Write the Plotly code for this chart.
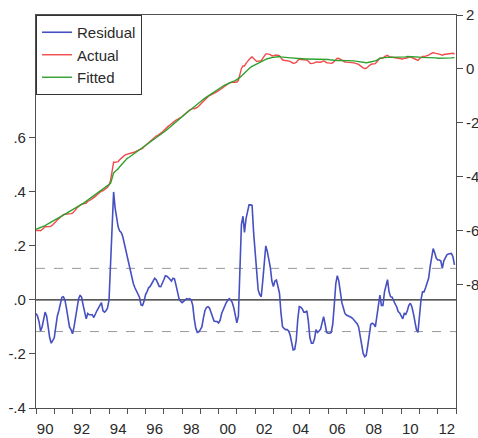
import numpy as np
import plotly.graph_objects as go

# Monthly data 1990M01 - 2012M12
residual_by_year = {
    1990: [-0.05, -0.06, -0.08, -0.115, -0.10, -0.07, -0.045, -0.06, -0.10, -0.14, -0.16, -0.15],
    1991: [-0.14, -0.10, -0.06, -0.04, -0.01, 0.01, 0.012, 0.0, -0.03, -0.07, -0.10, -0.11],
    1992: [-0.125, -0.10, -0.06, -0.02, 0.005, 0.018, 0.01, -0.02, -0.05, -0.07, -0.05, -0.055],
    1993: [-0.055, -0.055, -0.065, -0.05, -0.04, -0.03, -0.02, -0.01, -0.04, -0.045, -0.04, -0.03],
    1994: [0.0, 0.12, 0.26, 0.40, 0.34, 0.31, 0.27, 0.255, 0.25, 0.235, 0.21, 0.185],
    1995: [0.15, 0.125, 0.105, 0.086, 0.06, 0.045, 0.035, 0.02, 0.01, -0.018, -0.02, -0.005],
    1996: [0.02, 0.031, 0.045, 0.05, 0.06, 0.074, 0.08, 0.075, 0.06, 0.05, 0.049, 0.06],
    1997: [0.075, 0.09, 0.088, 0.083, 0.075, 0.07, 0.08, 0.078, 0.055, 0.03, 0.005, -0.005],
    1998: [-0.01, -0.005, 0.0, 0.005, 0.003, 0.005, 0.0, -0.02, -0.07, -0.105, -0.12, -0.118],
    1999: [-0.11, -0.10, -0.067, -0.04, -0.028, -0.025, -0.03, -0.045, -0.065, -0.078, -0.08, -0.08],
    2000: [-0.085, -0.075, -0.05, -0.037, -0.02, -0.01, -0.002, 0.005, 0.0, -0.01, -0.03, -0.06],
    2001: [-0.085, -0.06, 0.10, 0.28, 0.31, 0.25, 0.30, 0.33, 0.352, 0.352, 0.35, 0.25],
    2002: [0.17, 0.086, 0.037, 0.02, 0.012, 0.07, 0.14, 0.20, 0.18, 0.15, 0.12, 0.07],
    2003: [0.05, 0.07, 0.074, 0.05, 0.025, -0.049, -0.099, -0.105, -0.11, -0.11, -0.115, -0.13],
    2004: [-0.165, -0.185, -0.183, -0.15, -0.074, -0.025, -0.027, -0.033, -0.045, -0.045, -0.04, -0.08],
    2005: [-0.14, -0.16, -0.16, -0.145, -0.11, -0.12, -0.115, -0.108, -0.085, -0.062, -0.09, -0.12],
    2006: [-0.123, -0.123, -0.12, -0.09, -0.02, 0.06, 0.09, 0.07, 0.03, -0.01, -0.03, -0.05],
    2007: [-0.056, -0.058, -0.06, -0.064, -0.068, -0.075, -0.085, -0.088, -0.10, -0.136, -0.173, -0.198],
    2008: [-0.21, -0.205, -0.17, -0.12, -0.09, -0.086, -0.09, -0.10, -0.06, -0.01, 0.018, -0.02],
    2009: [-0.02, 0.03, 0.06, 0.075, 0.03, 0.012, 0.01, -0.005, -0.015, -0.025, -0.043, -0.048],
    2010: [-0.062, -0.07, -0.05, -0.053, -0.04, -0.02, -0.012, -0.025, -0.05, -0.075, -0.11, -0.12],
    2011: [-0.06, 0.0, 0.03, 0.03, 0.045, 0.062, 0.08, 0.123, 0.16, 0.19, 0.175, 0.155],
    2012: [0.148, 0.148, 0.145, 0.117, 0.145, 0.155, 0.167, 0.17, 0.17, 0.172, 0.16, 0.13],
}
fitted_by_year = {
    1990: [-5.94, -5.92, -5.90, -5.88, -5.86, -5.83, -5.80, -5.77, -5.74, -5.70, -5.66, -5.62],
    1991: [-5.59, -5.56, -5.53, -5.50, -5.47, -5.44, -5.41, -5.38, -5.35, -5.31, -5.28, -5.25],
    1992: [-5.22, -5.19, -5.16, -5.12, -5.09, -5.05, -5.02, -4.98, -4.94, -4.90, -4.86, -4.83],
    1993: [-4.79, -4.75, -4.71, -4.67, -4.63, -4.59, -4.55, -4.51, -4.47, -4.43, -4.39, -4.35],
    1994: [-4.30, -4.24, -4.05, -3.85, -3.80, -3.76, -3.70, -3.62, -3.55, -3.48, -3.42, -3.36],
    1995: [-3.31, -3.28, -3.24, -3.20, -3.16, -3.12, -3.08, -3.04, -3.00, -2.96, -2.92, -2.88],
    1996: [-2.85, -2.81, -2.77, -2.73, -2.69, -2.65, -2.60, -2.56, -2.52, -2.48, -2.44, -2.40],
    1997: [-2.35, -2.30, -2.25, -2.20, -2.15, -2.10, -2.05, -2.00, -1.95, -1.90, -1.85, -1.80],
    1998: [-1.75, -1.70, -1.66, -1.62, -1.57, -1.53, -1.49, -1.44, -1.40, -1.35, -1.30, -1.25],
    1999: [-1.20, -1.16, -1.12, -1.08, -1.04, -1.00, -0.96, -0.92, -0.88, -0.84, -0.80, -0.76],
    2000: [-0.72, -0.69, -0.66, -0.63, -0.60, -0.57, -0.54, -0.52, -0.50, -0.47, -0.45, -0.43],
    2001: [-0.40, -0.36, -0.31, -0.26, -0.20, -0.14, -0.09, -0.04, 0.01, 0.06, 0.10, 0.13],
    2002: [0.16, 0.20, 0.24, 0.27, 0.30, 0.33, 0.35, 0.36, 0.38, 0.40, 0.41, 0.42],
    2003: [0.43, 0.44, 0.45, 0.46, 0.46, 0.45, 0.44, 0.43, 0.43, 0.42, 0.42, 0.41],
    2004: [0.41, 0.40, 0.40, 0.39, 0.39, 0.39, 0.38, 0.38, 0.38, 0.37, 0.37, 0.37],
    2005: [0.36, 0.36, 0.36, 0.37, 0.37, 0.37, 0.36, 0.36, 0.36, 0.36, 0.36, 0.35],
    2006: [0.35, 0.34, 0.33, 0.32, 0.31, 0.31, 0.31, 0.32, 0.32, 0.32, 0.31, 0.31],
    2007: [0.31, 0.31, 0.31, 0.31, 0.30, 0.30, 0.29, 0.28, 0.27, 0.26, 0.25, 0.24],
    2008: [0.23, 0.23, 0.24, 0.25, 0.26, 0.27, 0.28, 0.30, 0.33, 0.37, 0.39, 0.41],
    2009: [0.42, 0.43, 0.43, 0.43, 0.43, 0.43, 0.43, 0.43, 0.43, 0.43, 0.43, 0.43],
    2010: [0.44, 0.44, 0.45, 0.45, 0.46, 0.46, 0.46, 0.45, 0.45, 0.45, 0.44, 0.44],
    2011: [0.44, 0.43, 0.43, 0.43, 0.43, 0.43, 0.43, 0.43, 0.42, 0.42, 0.41, 0.41],
    2012: [0.40, 0.40, 0.39, 0.39, 0.39, 0.39, 0.40, 0.40, 0.41, 0.41, 0.42, 0.42],
}
se_band = 0.117
left_tick_vals = [-0.4, -0.2, 0.0, 0.2, 0.4, 0.6]
left_tick_text = ["-.4", "-.2", ".0", ".2", ".4", ".6"]
right_tick_vals = [2, 0, -2, -4, -6, -8]
right_tick_text = ["2", "0", "-2", "-4", "-6", "-8"]
year_labels = ["90", "92", "94", "96", "98", "00", "02", "04", "06", "08", "10", "12"]

years = sorted(residual_by_year)
residual = np.array([v for y in years for v in residual_by_year[y]])
fitted = np.array([v for y in years for v in fitted_by_year[y]])
actual = fitted + residual  # residual = actual - fitted
t = np.array([y + m / 12 for y in years for m in range(12)])

BLUE = "#4650c0"
RED = "#f24a4a"
GREEN = "#2ea02e"
AX = "#505050"
TXT = "#2a2a2a"
FONT = dict(family="Liberation Sans, Arial, sans-serif", size=15, color=TXT)

fig = go.Figure()
fig.add_trace(go.Scatter(x=t, y=residual, name="Residual", mode="lines",
                         line=dict(color=BLUE, width=1.6), yaxis="y"))
fig.add_trace(go.Scatter(x=t, y=actual, name="Actual", mode="lines",
                         line=dict(color=RED, width=1.4), yaxis="y2"))
fig.add_trace(go.Scatter(x=t, y=fitted, name="Fitted", mode="lines",
                         line=dict(color=GREEN, width=1.4), yaxis="y2"))
# invisible trace that carries the year tick marks on an overlaying x axis
fig.add_trace(go.Scatter(x=[1990, 2013], y=[None, None], xaxis="x2", yaxis="y",
                         showlegend=False, hoverinfo="skip"))

shapes = [
    dict(type="line", xref="paper", x0=0, x1=1, yref="y", y0=0, y1=0,
         line=dict(color="#222222", width=1.3), layer="below"),
    dict(type="line", xref="paper", x0=0, x1=1, yref="y", y0=se_band, y1=se_band,
         line=dict(color="#9a9a9a", width=1, dash="dash"), layer="below"),
    dict(type="line", xref="paper", x0=0, x1=1, yref="y", y0=-se_band, y1=-se_band,
         line=dict(color="#9a9a9a", width=1, dash="dash"), layer="below"),
]

label_pos = [int(l) + (1900 if int(l) >= 50 else 2000) + 0.5 for l in year_labels]

fig.update_layout(
    width=478, height=438,
    margin=dict(l=36, r=22, t=15, b=30, pad=0),
    paper_bgcolor="white", plot_bgcolor="white",
    font=FONT,
    showlegend=True,
    legend=dict(x=0, y=1, xanchor="left", yanchor="top", bgcolor="white",
                bordercolor="#333333", borderwidth=1, font=dict(size=15, color=TXT),
                itemwidth=30),
    shapes=shapes,
    xaxis=dict(range=[1990, 2013], tickmode="array", tickvals=label_pos, ticktext=year_labels,
               ticks="outside", ticklen=7, tickcolor="rgba(0,0,0,0)", showgrid=False,
               zeroline=False, showline=True, linecolor=AX, linewidth=1.2, mirror=True,
               tickfont=FONT, automargin=False),
    xaxis2=dict(range=[1990, 2013], overlaying="x", side="bottom", tickmode="array",
                tickvals=list(range(1990, 2014)), showticklabels=False, ticks="outside",
                ticklen=5, tickcolor=AX, showgrid=False, zeroline=False, showline=False,
                automargin=False),
    yaxis=dict(range=[-0.4, 1.055], tickmode="array", tickvals=left_tick_vals,
               ticktext=left_tick_text, ticks="outside", ticklen=6, tickcolor=AX,
               showgrid=False, zeroline=False, showline=True, linecolor=AX, linewidth=1.2,
               tickfont=FONT, automargin=False),
    yaxis2=dict(range=[-12.56, 2], overlaying="y", side="right", tickmode="array",
                tickvals=right_tick_vals, ticktext=right_tick_text, ticks="outside",
                ticklen=6, tickcolor=AX, showgrid=False, zeroline=False, showline=True,
                linecolor=AX, linewidth=1.2, tickfont=FONT, automargin=False),
)

fig.write_html("out.html", config={"displayModeBar": False},
               post_script="document.body.style.margin='0';document.body.style.overflow='hidden';")
